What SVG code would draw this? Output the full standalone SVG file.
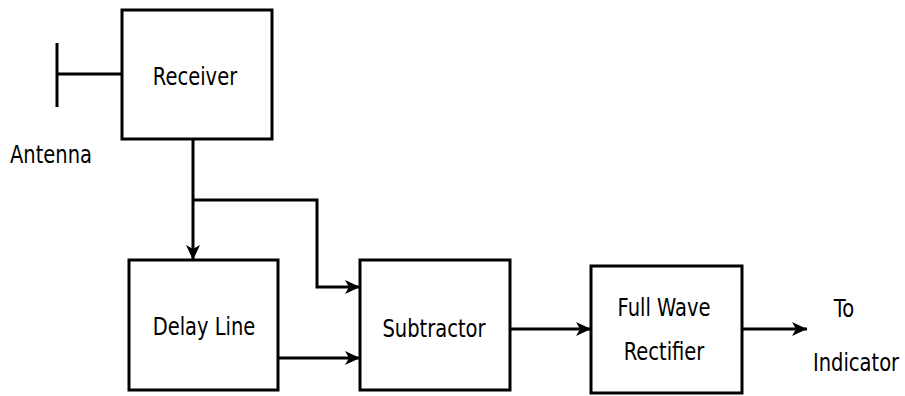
<svg xmlns="http://www.w3.org/2000/svg" width="905" height="396" viewBox="0 0 905 396">
<style>
.box{fill:#fff;stroke:#000;stroke-width:3}
.ln{fill:none;stroke:#000;stroke-width:3}
.t{font-family:"DejaVu Sans",Verdana,sans-serif;font-size:19.5px;fill:#000}
.c{text-anchor:middle}
</style>
<defs>
<marker id="ah" markerUnits="userSpaceOnUse" markerWidth="16" markerHeight="16" refX="15" refY="8" orient="auto">
<path d="M0,1 L15,8 L0,15 L4,8 z" fill="#000"/>
</marker>
</defs>
<rect width="905" height="396" fill="#fff"/>
<g id="connectors">
<path class="ln" d="M57,43 V107"/>
<path class="ln" d="M57,74 H122"/>
<path class="ln" d="M193,139 V260" marker-end="url(#ah)"/>
<path class="ln" d="M193,200 H317 V287 H360" marker-end="url(#ah)"/>
<path class="ln" d="M278,358 H360" marker-end="url(#ah)"/>
<path class="ln" d="M510,329 H591" marker-end="url(#ah)"/>
<path class="ln" d="M742,329 H807" marker-end="url(#ah)"/>
</g>
<g id="antenna">
<text class="t" transform="translate(10,163) scale(1,1.3)">Antenna</text>
</g>
<g id="receiver">
<rect class="box" x="122" y="10" width="150" height="129"/>
<text class="t c" transform="translate(195,85) scale(1,1.3)">Receiver</text>
</g>
<g id="delay">
<rect class="box" x="129" y="260" width="149" height="130"/>
<text class="t c" transform="translate(204,335) scale(1,1.3)">Delay Line</text>
</g>
<g id="subtractor">
<rect class="box" x="360" y="260" width="150" height="130"/>
<text class="t c" transform="translate(434,337) scale(1,1.3)">Subtractor</text>
</g>
<g id="rectifier">
<rect class="box" x="591" y="266" width="151" height="127"/>
<text class="t c" transform="translate(664,316) scale(1,1.3)">Full Wave</text>
<text class="t c" transform="translate(664,360) scale(1,1.3)">Rectifier</text>
</g>
<g id="indicator">
<text class="t c" transform="translate(844,317) scale(1,1.3)">To</text>
<text class="t c" transform="translate(856,371) scale(1,1.3)">Indicator</text>
</g>
</svg>
